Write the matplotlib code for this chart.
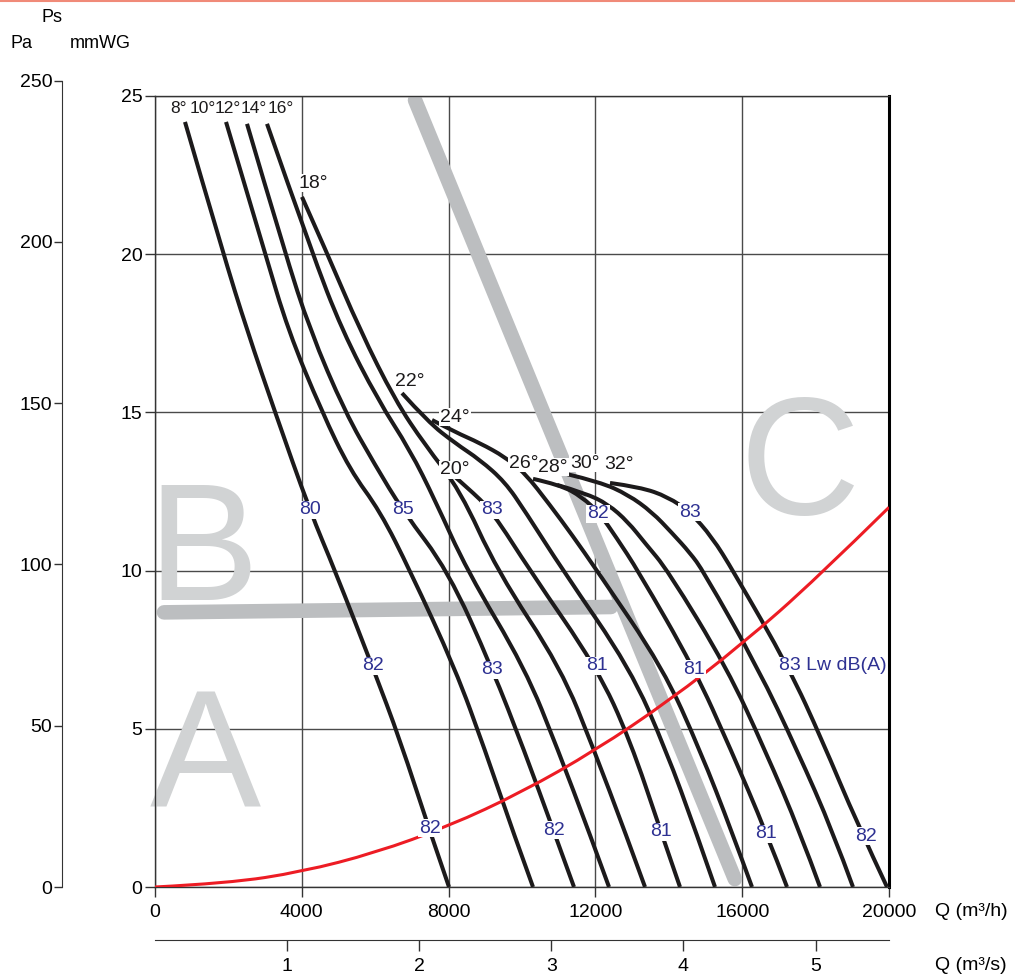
import matplotlib.pyplot as plt
from matplotlib.lines import Line2D
from matplotlib.path import Path
from matplotlib.patches import PathPatch

# fan curves per blade angle: flow Q (m3/h) and static pressure Ps (mmWG)
q08 = [817, 1853, 2507, 3270, 4223, 4905, 5940, 6676, 7493, 8011]
p08 = [24.18, 20.04, 17.60, 15.01, 11.88, 10.0, 6.92, 4.65, 1.74, 0]
q12 = [1935, 2997, 3624, 4550, 5313, 6131, 6948, 8174, 8992, 9755, 10300]
p12 = [24.18, 20.04, 17.60, 15.01, 13.18, 11.88, 10.0, 6.92, 4.33, 1.74, 0]
q14 = [2507, 3542, 4223, 5177, 5995, 6758, 7984, 9183, 10055, 10872, 11417]
p14 = [24.12, 20.04, 17.60, 15.01, 13.34, 11.88, 10.0, 6.92, 4.33, 1.74, 0]
q16 = [3052, 4278, 5095, 6076, 6948, 7629, 8501, 10082, 10981, 11826, 12371]
p16 = [24.12, 20.04, 17.60, 15.39, 13.81, 12.23, 10.0, 6.92, 4.33, 1.74, 0]
q18 = [4005, 4687, 5586, 6540, 7357, 8311, 9319, 11063, 11962, 12807, 13352]
p18 = [21.81, 20.04, 17.60, 15.39, 13.97, 12.55, 10.0, 6.92, 4.33, 1.74, 0]
q20 = [7902, 8529, 9183, 10218, 12044, 12943, 13787, 14305]
p20 = [13.24, 12.61, 11.88, 10.0, 6.92, 4.65, 1.74, 0]
q22 = [6730, 7439, 8174, 8856, 9537, 10082, 11117, 12943, 13924, 14741, 15259]
p22 = [15.61, 14.70, 14.03, 13.50, 12.80, 11.88, 10.0, 6.92, 4.33, 1.74, 0]
q24 = [7548, 8174, 8856, 9537, 10082, 10763, 11362, 12044, 13842, 14850, 15722, 16267]
p24 = [14.76, 14.38, 14.03, 13.59, 13.08, 12.07, 11.13, 10.0, 6.92, 4.33, 1.74, 0]
q26 = [10300, 11035, 11635, 12126, 12562, 13161, 14687, 15695, 16649, 17221]
p26 = [12.90, 12.71, 12.33, 11.79, 11.06, 10.0, 6.92, 4.33, 1.74, 0]
q28 = [10954, 11717, 12343, 12888, 13352, 13978, 15586, 16621, 17575, 18120]
p28 = [12.71, 12.45, 12.10, 11.54, 10.87, 10.0, 6.92, 4.33, 1.74, 0]
q30 = [11226, 12126, 12888, 13542, 14087, 14578, 14932, 16431, 17493, 18474, 19019]
p30 = [13.05, 12.80, 12.40, 11.85, 11.19, 10.56, 10.0, 6.92, 4.33, 1.74, 0]
q32 = [12398, 13215, 13978, 14578, 15177, 15749, 17275, 18174, 19128, 19946]
p32 = [12.77, 12.64, 12.33, 11.85, 11.06, 10.0, 6.92, 4.65, 2.02, 0]

# system resistance curve
sys_q = [0, 2000, 4000, 6000, 8000, 10000, 12000, 14000, 16000, 18000, 20000]
sys_p = [0, 0.12, 0.48, 1.08, 1.92, 3.0, 4.32, 5.88, 7.68, 9.72, 12.0]

# grey zone limits
diag_q = [7085, 15800]
diag_p = [24.87, 0.25]
horiz_q = [245, 12425]
horiz_p = [8.68, 8.85]

top_text = ['8°', '10°', '12°', '14°', '16°']
top_q = [627, 1308, 1990, 2698, 3433]
top_p = [24.62, 24.62, 24.62, 24.62, 24.62]

angle_text = ['18°', '22°', '24°', '20°', '26°', '28°', '30°', '32°']
angle_q = [4311, 6948, 8174, 8174, 10054, 10845, 11717, 12643]
angle_p = [22.25, 15.99, 14.85, 13.18, 13.40, 13.27, 13.40, 13.34]

db_text = ['80', '85', '83', '82', '83', '82', '83', '81', '81',
           '82', '82', '81', '81', '82']
db_q = [4237, 6757, 9183, 12071, 14578, 5940, 9183, 12043, 14687,
        7493, 10872, 13787, 16649, 19373]
db_p = [11.92, 11.92, 11.92, 11.79, 11.85, 6.99, 6.86, 6.99, 6.89,
        1.86, 1.80, 1.74, 1.68, 1.61]
lw_text = '83 Lw dB(A)'
lw_q = 17003
lw_p = 6.99

zone_text = ['A', 'B', 'C']
zone_q = [1360, 1308, 17576]
zone_p = [2.5, 9.07, 11.8]


def smooth(q, p):
    # quadratic path using the read points as control points
    pts = list(zip(q, p))
    verts = [pts[0]]
    codes = [Path.MOVETO]
    for i in range(1, len(pts) - 1):
        if i == len(pts) - 2:
            end = pts[-1]
        else:
            end = ((pts[i][0] + pts[i + 1][0]) / 2, (pts[i][1] + pts[i + 1][1]) / 2)
        verts += [pts[i], end]
        codes += [Path.CURVE3, Path.CURVE3]
    return Path(verts, codes)


plt.rcParams['font.family'] = ['Liberation Sans', 'DejaVu Sans']

W, H = 1015, 977
fig = plt.figure(figsize=(W / 100, H / 100), dpi=100)

ax = fig.add_axes([155 / W, 90 / H, 734 / W, 791 / H])
ax.set_xlim(0, 20000)
ax.set_ylim(0, 25)
ax.set_xticks(range(0, 20001, 4000))
ax.set_yticks(range(0, 26, 5))
ax.grid(True, color='#4a4a4a', lw=1.0)
ax.set_axisbelow(True)
ax.tick_params(axis='both', direction='out', length=7, width=1,
               labelsize=14, color='#333333')
ax.tick_params(axis='y', pad=2)
ax.tick_params(axis='x', pad=5)
for s in ['left', 'top', 'bottom']:
    ax.spines[s].set_color('#333333')
    ax.spines[s].set_linewidth(1.0)
ax.spines['right'].set_color('black')
ax.spines['right'].set_linewidth(2.2)

# zone letters and grey limit lines
for t, x, y in zip(zone_text, zone_q, zone_p):
    ax.text(x, y, t, fontsize=120, color='#d1d3d4', ha='center',
            va='baseline', zorder=1)
ax.plot(diag_q, diag_p, color='#bcbec0', lw=10.5, solid_capstyle='round',
        zorder=2)
ax.plot(horiz_q, horiz_p, color='#bcbec0', lw=10.5, solid_capstyle='round',
        zorder=2)

curves = [(q08, p08), (q12, p12), (q14, p14), (q16, p16), (q18, p18),
          (q20, p20), (q22, p22), (q24, p24), (q26, p26), (q28, p28),
          (q30, p30), (q32, p32)]
for q, p in curves:
    ax.add_patch(PathPatch(smooth(q, p), facecolor='none', edgecolor='#1c1a1b',
                           lw=2.9, capstyle='butt', joinstyle='round', zorder=3))

ax.add_patch(PathPatch(smooth(sys_q, sys_p), facecolor='none',
                       edgecolor='#ed1c24', lw=2.2, zorder=4))

box = dict(facecolor='white', edgecolor='none', pad=0.6)
for t, x, y in zip(top_text, top_q, top_p):
    ax.text(x, y, t, fontsize=12.5, color='#1c1a1b', ha='center', va='center',
            zorder=5)
for t, x, y in zip(angle_text, angle_q, angle_p):
    ax.text(x, y, t, fontsize=14, color='#1c1a1b', ha='center', va='center',
            bbox=box, zorder=5)
for t, x, y in zip(db_text, db_q, db_p):
    ax.text(x, y, t, fontsize=14, color='#2e3192', ha='center', va='center',
            bbox=box, zorder=5)
ax.text(lw_q, lw_p, lw_text, fontsize=14, color='#2e3192', ha='left',
        va='center', bbox=box, zorder=5)

# Pa scale on the far left
pa = fig.add_axes([62 / W, 90 / H, 0.0001, (25.484 * 31.64) / H])
pa.set_ylim(0, 250)
pa.set_yticks(range(0, 251, 50))
pa.set_xticks([])
pa.patch.set_visible(False)
for s in ['right', 'top', 'bottom']:
    pa.spines[s].set_visible(False)
pa.spines['left'].set_color('#333333')
pa.tick_params(axis='y', direction='out', length=6, width=1, labelsize=14,
               pad=1, color='#333333')

# m3/s scale below
qs = fig.add_axes([155 / W, 37 / H, 734 / W, 0.0001])
qs.set_xlim(0, 20000 / 3600)
qs.set_xticks([1, 2, 3, 4, 5])
qs.set_yticks([])
qs.patch.set_visible(False)
for s in ['left', 'right', 'top']:
    qs.spines[s].set_visible(False)
qs.spines['bottom'].set_color('#333333')
qs.tick_params(axis='x', direction='out', length=8, width=1, labelsize=14,
               pad=5, color='#333333')

fig.text(52 / W, 1 - 18 / H, 'Ps', fontsize=13, ha='center', va='center')
fig.text(22 / W, 1 - 43 / H, 'Pa', fontsize=13, ha='center', va='center')
fig.text(100 / W, 1 - 43 / H, 'mmWG', fontsize=13, ha='center', va='center')
fig.text(935 / W, 1 - 912 / H, 'Q (m³/h)', fontsize=14, ha='left',
         va='center')
fig.text(935 / W, 1 - 966 / H, 'Q (m³/s)', fontsize=14, ha='left',
         va='center')
fig.add_artist(Line2D([0, 1], [1 - 1 / H, 1 - 1 / H], color='#f08a78', lw=1.5,
                      transform=fig.transFigure))

fig.savefig('out.png', dpi=100)
